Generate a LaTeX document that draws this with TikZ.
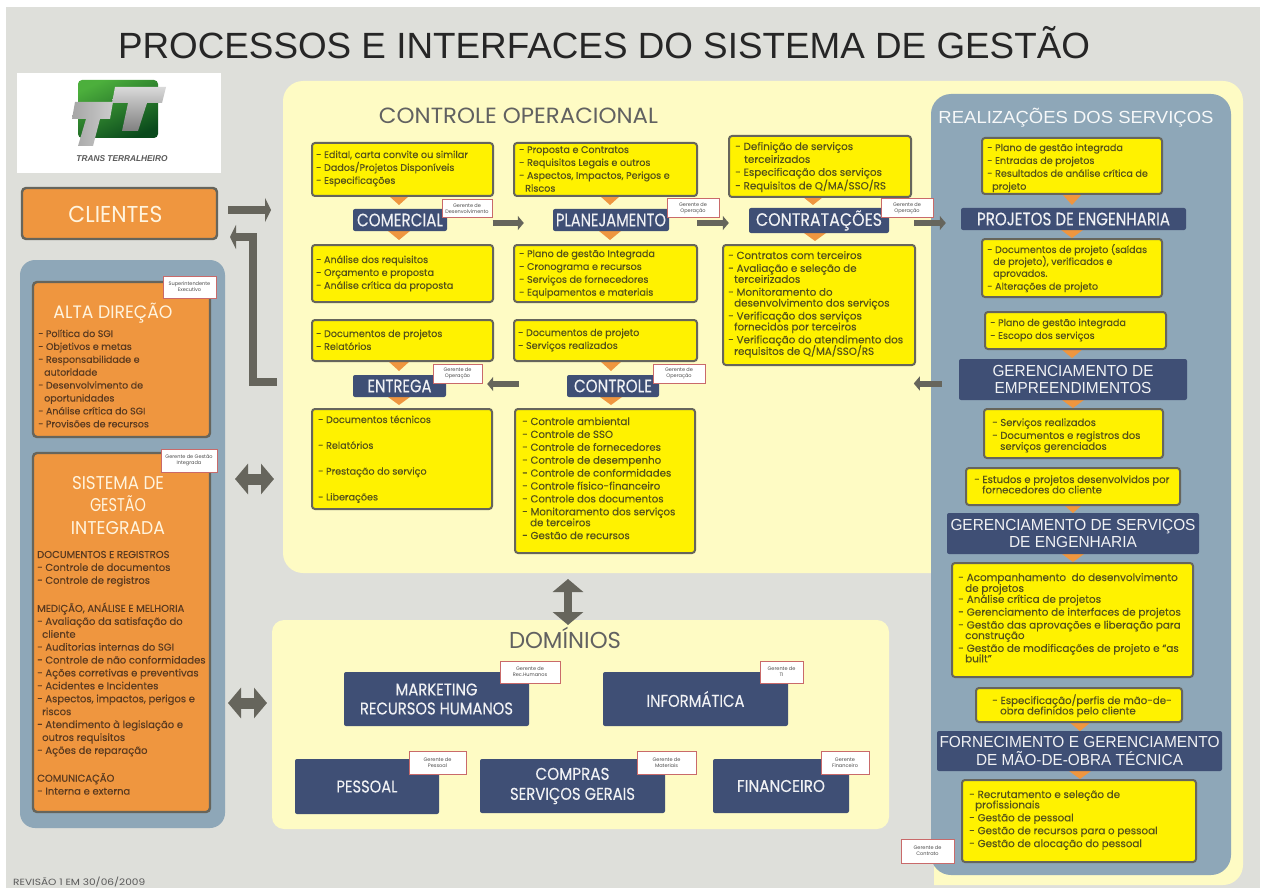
\documentclass[tikz,border=0pt]{standalone}
\usepackage{fontspec}
\usepackage{graphicx}
\setmainfont{Poppins}
\newfontfamily\arialf{Liberation Sans}
\newfontfamily\boldish{Poppins}[FakeBold=0.22]
\usetikzlibrary{arrows.meta}
\definecolor{bggray}{HTML}{DEDFDA}
\definecolor{cream}{HTML}{FEFBC4}
\definecolor{panelblue}{HTML}{8EA7B8}
\definecolor{navyc}{HTML}{3F4F75}
\definecolor{yel}{HTML}{FFF200}
\definecolor{orang}{HTML}{EF963F}
\definecolor{edgec}{HTML}{66655C}
\definecolor{ytext}{HTML}{55521A}
\definecolor{otext}{HTML}{5A3A20}
\definecolor{tint}{HTML}{FFF4DE}
\definecolor{tagred}{HTML}{C96A6A}
\definecolor{logoa}{HTML}{4CAF3C}
\definecolor{logob}{HTML}{0A4A1C}
\tikzset{
  yboxs/.style={draw=edgec,line width=2pt,fill=yel,rounded corners=3pt,inner sep=0pt},
  oboxs/.style={draw=edgec,line width=2.4pt,fill=orang,rounded corners=4pt,inner sep=0pt},
  txtn/.style={anchor=base west,inner sep=0pt,text=ytext},
  navys/.style={fill=navyc,rounded corners=2pt,inner sep=0pt,text=white!92!navyc,align=center},
  tags/.style={draw=tagred,line width=1pt,fill=white,inner sep=0pt,text=black!70,align=center,font=\fontsize{5}{6.2}\selectfont},
  garrow/.style={draw=edgec,line width=#1,line join=miter},
  trishape/.style={fill=orang},
  heads/.style={anchor=base,inner sep=0pt},
}
\newcommand{\wfit}[2]{\resizebox{#1pt}{\height}{#2}}
\newcommand{\ind}[1]{\hspace*{#1pt}}
\newcommand{\lines}[2]{\boldish\fontsize{#1}{12.9}\selectfont\begin{tabular}[t]{@{}l@{}}#2\end{tabular}}
% [size] x0 y0 x1 y1 tx ty text
\newcommand{\ybox}[8][9.6]{%
  \node[yboxs,minimum width=\dimexpr#4pt-#2pt\relax,minimum height=\dimexpr#5pt-#3pt\relax] (b#2-#3) at ({(#2+#4)/2},{(#3+#5)/2}) {};
  \node[txtn] (t#2-#3) at (#6,#7) {\lines{#1}{#8}};}
\newcommand{\tri}[4]{\fill[trishape] ({#1-#4},#2) -- ({#1+#4},#2) -- (#1,#3) -- cycle;}
% name x0 y0 x1 y1 size text
\newcommand{\navybox}[7]{%
  \node[navys,font=\boldish\fontsize{#6}{17.5}\selectfont,minimum width=\dimexpr#4pt-#2pt\relax,minimum height=\dimexpr#5pt-#3pt\relax] (#1) at ({(#2+#4)/2},{(#3+#5)/2}) {#7};}
\newcommand{\gtag}[6]{%
  \node[tags,minimum width=\dimexpr#4pt-#2pt\relax,minimum height=\dimexpr#5pt-#3pt\relax] (#1) at ({(#2+#4)/2},{(#3+#5)/2}) {#6};}
\begin{document}
\begin{tikzpicture}[x=1pt,y=-1pt]
\useasboundingbox (0,0) rectangle (1262,888);
\fill[white] (0,0) rectangle (1262,888);
\fill[bggray] (6,7) rectangle (1260,888);
% big panels
\fill[cream,rounded corners=20pt] (283,81) -- (1243,81) -- (1243,885) [sharp corners] -- (934,885) -- (934,573) [rounded corners=20pt] -- (283,573) -- cycle;
\node[fill=cream,rounded corners=12pt,inner sep=0pt,minimum width=617pt,minimum height=209pt] (dominios) at (580.5,724.5) {};
\node[fill=panelblue,rounded corners=20pt,inner sep=0pt,minimum width=300pt,minimum height=781pt] (realiz) at (1081,484.5) {};
\node[fill=panelblue,rounded corners=15pt,inner sep=0pt,minimum width=205pt,minimum height=568pt] (esq) at (122.5,544) {};
% title
\node[heads,font=\fontsize{36.5}{40}\selectfont\arialf,text=black!85] (titulo) at (604,59) {\wfit{972}{PROCESSOS E INTERFACES DO SISTEMA DE GESTÃO}};
% logo
\node[fill=white,inner sep=0pt,minimum width=204pt,minimum height=100pt] (logo) at (119,123) {};
\shade[top color=logoa,bottom color=logob,shading angle=25,rounded corners=4pt] (78,80) rectangle (158,138);
\shade[top color=white!85!black,bottom color=black!50] (115,87) -- (166,87) -- (162,103) -- (147,103) -- (138,131) -- (122,131) -- (128,103) -- (112,103) -- cycle;
\shade[left color=black!35,right color=white!80!black] (75,102) -- (113,102) -- (110,119) -- (100,119) -- (93,146) -- (78,146) -- (86,119) -- (72,119) -- cycle;
\node[heads,font=\fontsize{8.5}{10}\selectfont\arialf\bfseries\itshape,text=black!65] (logotxt) at (122,162) {\wfit{91}{TRANS TERRALHEIRO}};
% clientes
\node[oboxs,minimum width=195pt,minimum height=51pt] (clientes) at (119.5,213.5) {};
\node[heads,text=tint,font=\fontsize{23}{26}\selectfont] (clientest) at (115.5,223) {\wfit{94}{CLIENTES}};
% triangles
\tri{399}{196}{205}{10}\tri{399}{231}{240}{11}
\tri{610}{196}{205}{10}\tri{610}{231}{240}{11}
\tri{813}{197}{205}{10}\tri{815}{233}{241}{11}
\tri{399}{361}{371}{11}\tri{399}{397}{405}{11}
\tri{611}{361}{371}{11}\tri{611}{397}{405}{11}
\tri{1072}{194}{205}{10}\tri{1072}{230}{238}{11}
\tri{1072}{349}{358}{11}\tri{1073}{400}{408}{11}
\tri{1073}{505}{513}{9}\tri{1073}{554}{562}{11}
\tri{1080}{722}{731}{11}\tri{1080}{771}{779}{11}
% operational heading
\node[heads,font=\fontsize{22}{26}\selectfont,text=black!62] (ctrlop) at (518.5,124) {\wfit{279}{CONTROLE OPERACIONAL}};
\node[heads,font=\fontsize{17.5}{20}\selectfont\arialf,text=white!92!panelblue] (realtit) at (1076,124) {\wfit{275}{REALIZAÇÕES DOS SERVIÇOS}};
% Comercial column
\ybox{312}{143}{493}{196}{316}{158}{- Edital, carta convite ou similar\\- Dados/Projetos Disponíveis\\- Especificações}
\navybox{comercial}{353}{209}{447}{231}{18}{\wfit{86}{COMERCIAL}}
\ybox{312}{245}{493}{302}{316}{263}{- Análise dos requisitos\\- Orçamento e proposta\\- Análise crítica da proposta}
\gtag{tcom}{442}{200}{492}{218}{Gerente de\\Desenvolvimento}
% Planejamento column
\ybox{514}{143}{697}{196}{519}{153}{- Proposta e Contratos\\- Requisitos Legais  e outros\\- Aspectos, Impactos, Perigos e\\\ind{6}Riscos}
\navybox{planej}{553}{209}{669}{231}{18}{\wfit{110}{PLANEJAMENTO}}
\ybox{514}{245}{697}{302}{519}{257}{- Plano de gestão Integrada\\- Cronograma e recursos\\- Serviços de fornecedores\\- Equipamentos e materiais}
\gtag{tpla}{667}{199}{719}{218}{Gerente de\\Operação}
% Contratacoes column
\ybox[10.3]{729}{136}{911}{197}{735}{150}{- Definição de serviços\\\ind{9}terceirizados\\- Especificação dos serviços\\- Requisitos de Q/MA/SSO/RS}
\navybox{contrat}{749}{208}{889}{233}{18}{\wfit{126}{CONTRATAÇÕES}}
\ybox[10.3]{723}{245}{915}{365}{728}{259}{- Contratos com terceiros\\- Avaliação e seleção de\\[-2pt]\ind{6}terceirizados\\- Monitoramento do\\[-2pt]\ind{6}desenvolvimento dos serviços\\- Verificação dos serviços\\[-2pt]\ind{6}fornecidos por terceiros\\- Verificação do atendimento dos\\[-2pt]\ind{6}requisitos de Q/MA/SSO/RS}
\gtag{tcon}{881}{199}{933}{218}{Gerente de\\Operação}
% Entrega column
\ybox{312}{320}{493}{361}{316}{337}{- Documentos de projetos\\- Relatórios}
\navybox{entrega}{353}{375}{446}{397}{18}{\wfit{64}{ENTREGA}}
\ybox{312}{409}{492}{509}{318}{423}{- Documentos técnicos\\\\- Relatórios\\\\- Prestação do serviço\\\\- Liberações}
\gtag{tent}{433}{364}{482}{383}{Gerente de\\Operação}
% Controle column
\ybox{514}{320}{697}{361}{518}{336}{- Documentos de projeto\\- Serviços realizados}
\navybox{controle}{567}{375}{659}{397}{18}{\wfit{78}{CONTROLE}}
\ybox[10.2]{515}{409}{695}{553}{522}{425}{- Controle ambiental\\- Controle de SSO\\- Controle de fornecedores\\- Controle de desempenho\\- Controle de conformidades\\- Controle físico-financeiro\\- Controle dos documentos\\- Monitoramento dos serviços\\[-2pt]\ind{8}de terceiros\\- Gestão de recursos}
\gtag{tctl}{653}{364}{705}{383}{Gerente de\\Operação}
% Realizacoes column
\ybox{982}{138}{1162}{194}{987}{151}{- Plano de gestão integrada\\- Entradas de projetos\\- Resultados de análise crítica de\\\ind{5}projeto}
\navybox{projeng}{961}{208}{1186}{230}{18}{\wfit{193}{PROJETOS DE ENGENHARIA}}
\ybox{982}{239}{1162}{297}{987}{253}{- Documentos de projeto (saídas\\[-1pt]\ind{6}de projeto), verificados e\\[-1pt]\ind{6}aprovados.\\- Alterações de projeto}
\ybox{985}{312}{1166}{349}{990}{326}{- Plano de gestão integrada\\- Escopo dos serviços}
\navybox{gerempr}{959}{359}{1187}{400}{16}{\arialf\wfit{161}{GERENCIAMENTO DE}\\\arialf\wfit{157}{EMPREENDIMENTOS}}
\ybox[10]{984}{409}{1163}{458}{992}{426}{- Serviços realizados\\- Documentos e registros dos\\[-2pt]\ind{8}serviços gerenciados}
\ybox[10.1]{966}{468}{1180}{505}{974}{483}{- Estudos e projetos desenvolvidos por\\[-2.5pt]\ind{8}fornecedores do cliente}
\navybox{gerserv}{947}{513}{1199}{554}{16}{\arialf\wfit{245}{GERENCIAMENTO DE SERVIÇOS}\\\arialf\wfit{128}{DE ENGENHARIA}}
\ybox[10.4]{952}{563}{1193}{677}{958}{581}{- Acompanhamento\ \ do desenvolvimento\\[-2pt]\ind{7}de projetos\\[-2pt]- Análise crítica de projetos\\- Gerenciamento de interfaces de projetos\\- Gestão das aprovações e liberação para\\[-2.5pt]\ind{7}construção\\- Gestão de modificações de projeto e “as\\[-2.5pt]\ind{7}built”}
\ybox[10.2]{976}{688}{1182}{722}{992}{704}{- Especificação/perfis de mão-de-\\[-2.5pt]\ind{8}obra definidos pelo cliente}
\navybox{fornec}{937}{731}{1222}{771}{16}{\arialf\wfit{280}{FORNECIMENTO E GERENCIAMENTO}\\\arialf\wfit{207}{DE MÃO-DE-OBRA TÉCNICA}}
\ybox[10.3]{962}{780}{1196}{862}{969}{798}{- Recrutamento e seleção de\\[-2.5pt]\ind{6}profissionais\\- Gestão de pessoal\\- Gestão de recursos para o pessoal\\- Gestão de alocação do pessoal}
\gtag{tcontr}{901}{839}{954}{863}{Gerente de\\Contrato}
% Alta direcao
\node[oboxs,minimum width=177pt,minimum height=155pt] (alta) at (121.5,359.5) {};
\node[heads,font=\fontsize{18}{20}\selectfont,text=tint] (altat) at (113,318) {\wfit{119}{ALTA DIREÇÃO}};
\node[txtn,text=otext] (altatx) at (38,337) {\lines{9.5}{- Política do SGI\\- Objetivos e metas\\- Responsabilidade e\\\ind{6}autoridade\\- Desenvolvimento de\\\ind{6}oportunidades\\- Análise crítica do SGI\\- Provisões de recursos}};
\gtag{talta}{163}{276}{216}{298}{Superintendente\\Executivo}
% Sistema
\node[oboxs,minimum width=177pt,minimum height=359pt] (sist) at (121.5,632.5) {};
\node[heads,font=\fontsize{18.5}{22.5}\selectfont,text=tint,align=center] (sistt) at (118,489) {\begin{tabular}[t]{@{}c@{}}\wfit{92}{SISTEMA DE}\\\wfit{56}{GESTÃO}\\\wfit{94}{INTEGRADA}\end{tabular}};
\node[txtn,text=otext] (sisttx) at (37,558) {\lines{10}{DOCUMENTOS E REGISTROS\\- Controle de documentos\\- Controle de registros\\[15pt]MEDIÇÃO, ANÁLISE E MELHORIA\\- Avaliação da satisfação do\\\ind{5}cliente\\- Auditorias internas do SGI\\- Controle de não conformidades\\- Ações corretivas e preventivas\\- Acidentes e Incidentes\\- Aspectos, impactos, perigos e\\\ind{5}riscos\\- Atendimento à legislação e\\\ind{5}outros requisitos\\- Ações de reparação\\[15pt]COMUNICAÇÃO\\- Interna e externa}};
\gtag{tsist}{161}{449}{217}{472}{Gerente de Gestão\\Integrada}
% Dominios
\node[heads,font=\fontsize{23}{26}\selectfont,text=black!62] (domt) at (565,648) {\wfit{112}{DOMÍNIOS}};
\navybox{mkt}{344}{672}{529}{726}{17}{\wfit{82}{MARKETING}\\[1.5pt]\wfit{153}{RECURSOS HUMANOS}}
\navybox{info}{603}{672}{788}{726}{17}{\wfit{98}{INFORMÁTICA}}
\navybox{pess}{295}{759}{439}{814}{17}{\wfit{61}{PESSOAL}}
\navybox{compras}{480}{759}{665}{813}{17}{\wfit{74}{COMPRAS}\\[2.5pt]\wfit{125}{SERVIÇOS GERAIS}}
\navybox{fin}{713}{759}{849}{813}{17}{\wfit{88}{FINANCEIRO}}
\gtag{tmkt}{500}{661}{560}{683}{Gerente de\\Rec.Humanos}
\gtag{tinfo}{760}{661}{803}{683}{Gerente de\\TI}
\gtag{tpess}{409}{751}{466}{774}{Gerente de\\Pessoal}
\gtag{tcomp}{637}{751}{696}{774}{Gerente de\\Materiais}
\gtag{tfin}{821}{751}{869}{774}{Gerente\\Financeiro}
% named free ends
\coordinate (painelE) at (271,210);
\coordinate (painelB) at (277,382);
\coordinate (cliA) at (230,237);
\coordinate (sa) at (235,479);
\coordinate (sb) at (274,479);
\coordinate (da) at (228,703);
\coordinate (db) at (267,703);
\coordinate (va) at (568,579);
\coordinate (vb) at (568,625);
% arrows
\tikzset{smallhead/.style={-{Triangle[length=6pt,width=14pt]}},
 bighead/.style={-{Triangle[length=6pt,width=24pt]}},
 dblhead/.style={{Triangle[length=13pt,width=30pt]}-{Triangle[length=13pt,width=30pt]}}}
\draw[garrow=8pt,bighead] ([xshift=10pt,yshift=3.5pt]clientes.east) -- (painelE);
\draw[garrow=8pt,bighead] (painelB) -- (253,382) -- (253,237) -- (cliA);
\draw[garrow=6pt,smallhead] ([yshift=-3pt]comercial.east -| tcom.east) -- ([xshift=-29pt,yshift=-3pt]planej.west);
\draw[garrow=6pt,smallhead] ([xshift=28pt,yshift=-3pt]planej.east) -- ([xshift=-20pt,yshift=-2.5pt]contrat.west);
\draw[garrow=6pt,smallhead] ([xshift=25pt,yshift=-2.5pt]contrat.east) -- ([xshift=-15pt,yshift=-4pt]projeng.west);
\draw[garrow=6pt,smallhead] ([xshift=-48pt,yshift=2pt]controle.west) -- ([xshift=41pt,yshift=2pt]entrega.east);
\draw[garrow=6pt,smallhead] ([xshift=-17pt,yshift=-4pt]gerempr.west) -- ([xshift=-45pt,yshift=-4pt]gerempr.west);
\draw[garrow=11pt,dblhead] (sa) -- (sb);
\draw[garrow=11pt,dblhead] (da) -- (db);
\draw[garrow=8pt,dblhead] (va) -- (vb);
% revision
\node[txtn,text=black!65,font=\fontsize{9}{10}\selectfont] (rev) at (13,885) {\wfit{132}{REVISÃO 1 EM 30/06/2009}};
\end{tikzpicture}
\end{document}
